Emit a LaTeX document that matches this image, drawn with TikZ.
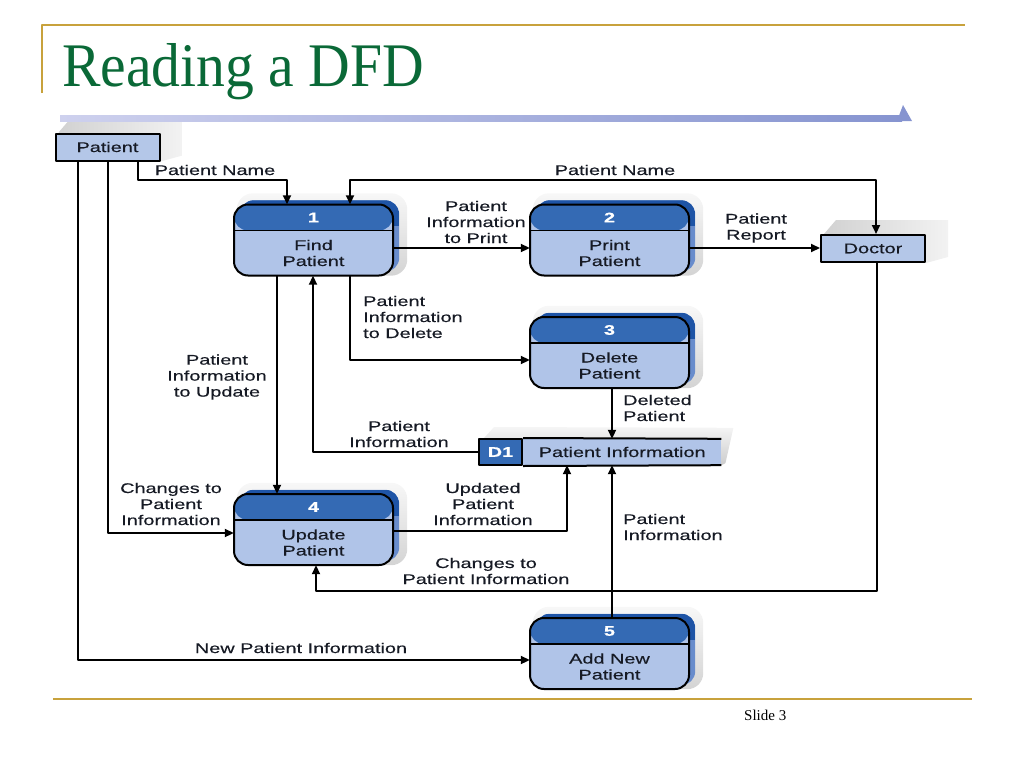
\documentclass[tikz,border=0pt]{standalone}
\usepackage{fontspec}
\setmainfont{Liberation Serif}
\newfontfamily\dfd[FakeStretch=1.42,FakeBold=0.35]{Liberation Sans}
\newfontfamily\titlef[FakeStretch=0.93]{Liberation Serif}
\usetikzlibrary{arrows.meta,backgrounds}
\definecolor{headc}{RGB}{52,106,180}
\definecolor{bodyc}{RGB}{176,196,232}
\definecolor{extbody}{RGB}{104,140,204}
\definecolor{exthead}{RGB}{30,84,166}
\definecolor{entfill}{RGB}{180,199,232}
\definecolor{gold}{RGB}{200,162,60}
\definecolor{titlegreen}{RGB}{10,105,55}
\definecolor{barL}{RGB}{206,209,238}
\definecolor{barR}{RGB}{134,148,208}
\definecolor{inkc}{RGB}{22,26,36}
\newcommand\dfdfont{\dfd\fontsize{14}{16}\selectfont}
\newcommand\procshade[1]{%
  \shade[top color=black!3, bottom color=black!17, rounded corners=16pt] ([shift={(3pt,11pt)}]#1.north west) rectangle ([shift={(14pt,0pt)}]#1.south east);
  \fill[extbody, rounded corners=14pt] ([shift={(6pt,4pt)}]#1.north west) rectangle ([shift={(6pt,4pt)}]#1.south east);
  \begin{scope}
    \clip[rounded corners=14pt] ([shift={(6pt,4pt)}]#1.north west) rectangle ([shift={(6pt,4pt)}]#1.south east);
    \fill[exthead] ([shift={(6pt,4pt)}]#1.north west) rectangle ([shift={(6pt,-22pt)}]#1.north east);
  \end{scope}}
\newcommand\entshade[1]{%
  \shade[left color=black!18, right color=black!5] ([shift={(4pt,0pt)}]#1.north west) -- ([shift={(16pt,14pt)}]#1.north west) -- ([shift={(22pt,14pt)}]#1.north east) -- ([shift={(22pt,6pt)}]#1.south east) -- (#1.south east) -- cycle;}
\begin{document}
\begin{tikzpicture}[x=1pt,y=-1pt,line join=round,
  >={Triangle[length=9pt,width=8pt]},
  flow/.style={line width=1.9pt,->},
  lbl/.style={font=\dfdfont, text=inkc, align=center, inner sep=0pt},
  ent/.style={draw, line width=2pt, fill=entfill, minimum width=104pt, minimum height=27pt, inner sep=0pt, font=\dfdfont, text=inkc},
  proc/.style n args={2}{fill=bodyc, rounded corners=14pt, minimum width=159pt, minimum height=71pt, inner sep=0pt,
    path picture={\fill[headc] (path picture bounding box.north west) rectangle ([yshift=-26pt]path picture bounding box.north east);
      \draw[line width=1.8pt] ([yshift=-26pt]path picture bounding box.north west) -- ([yshift=-26pt]path picture bounding box.north east);},
    postaction={draw, line width=2pt},
    label={[lbl, text=white, font=\dfdfont\bfseries, yshift=22.5pt]center:#1},
    label={[lbl, yshift=-13pt]center:#2}}]
\useasboundingbox (0,0) rectangle (1024,768);

% slide decoration
\draw[gold, line width=2pt] (42,93) -- (42,25) -- (965,25);
\node[anchor=base west, inner sep=0pt, text=titlegreen, font=\titlef\fontsize{62}{70}\selectfont] (title) at (62,86) {Reading a DFD};
\shade[left color=barL, right color=barR] (60,115) rectangle (902,121);
\fill[barR] (897,121) -- (903,105) -- (912,121) -- cycle;
\draw[gold, line width=2pt] (53,699) -- (972,699);
\node[anchor=base west, inner sep=0pt, font=\fontsize{15}{18}\selectfont] (slide) at (744,720) {Slide 3};

% entities
\node[ent] (patient) at (107.5,147) {Patient};
\node[ent] (doctor) at (873,248.5) {Doctor};

% processes
\node[proc={1}{Find\\Patient}] (find) at (313.5,240) {};
\node[proc={2}{Print\\Patient}] (print) at (609.5,240) {};
\node[proc={3}{Delete\\Patient}] (delete) at (609.5,352.5) {};
\node[proc={4}{Update\\Patient}] (update) at (313.5,529.5) {};
\node[proc={5}{Add New\\Patient}] (add) at (609.5,653.5) {};

% data store
\node[draw, line width=2pt, fill=headc, minimum width=43pt, minimum height=26pt, inner sep=0pt, text=white, font=\dfdfont\bfseries] (d1id) at (500.5,452) {D1};
\node[fill=bodyc, anchor=west, minimum width=198pt, minimum height=26pt, inner sep=0pt, font=\dfdfont, text=inkc] (d1) at (d1id.east) {Patient Information};
\draw[line width=2pt] (d1id.north east) -- (d1.north east) (d1id.south east) -- (d1.south east);

% shadows
\begin{pgfonlayer}{background}
  \procshade{find}\procshade{print}\procshade{delete}\procshade{update}\procshade{add}
  \entshade{patient}\entshade{doctor}
  \shade[top color=black!4, bottom color=black!20] ([shift={(6pt,0pt)}]d1id.north west) -- ([shift={(16pt,11pt)}]d1id.north west) -- ([shift={(12pt,11pt)}]d1.north east) -- ([shift={(4pt,2pt)}]d1.south east) -- (d1.south east) -- cycle;
\end{pgfonlayer}

% routing points
\coordinate (c1a) at (138,180); \coordinate (c1b) at (287,180);
\coordinate (t1) at (350,180); \coordinate (t2) at (876,180);
\coordinate (h1) at (0,248);
\coordinate (dc) at (350,360);
\coordinate (u) at (277,0);
\coordinate (pc) at (313,452);
\coordinate (q) at (612,0);
\coordinate (r) at (567,531);
\coordinate (s1) at (877,591); \coordinate (s2) at (316,591);
\coordinate (a1) at (108,533);
\coordinate (a2) at (78,660);

% flows
\draw[flow] (patient.south -| c1a) -- (c1a) -- (c1b) -- (find.north -| c1b);
\draw[flow,<->] (find.north -| t1) -- (t1) -- (t2) -- (doctor.north -| t2);
\draw[flow] (find.east |- h1) -- (print.west |- h1);
\draw[flow] (print.east |- h1) -- (doctor.west |- h1);
\draw[flow] (find.south -| dc) -- (dc) -- (delete.west |- dc);
\draw[flow] (find.south -| u) -- (update.north -| u);
\draw[flow] (d1id.west) -- (pc) -- (find.south -| pc);
\draw[flow] (delete.south -| q) -- (d1.north -| q);
\draw[flow] (update.east |- r) -- (r) -- (d1.south -| r);
\draw[flow] (add.north -| q) -- (d1.south -| q);
\draw[flow] (doctor.south -| s1) -- (s1) -- (s2) -- (update.south -| s2);
\draw[flow] (patient.south -| a1) -- (a1) -- (update.west |- a1);
\draw[flow] (patient.south -| a2) -- (a2) -- (add.west |- a2);

% flow labels
\node[lbl] (l1) at (215,170) {Patient Name};
\node[lbl] (l2) at (615,170) {Patient Name};
\node[lbl] (l3) at (476,222) {Patient\\Information\\to Print};
\node[lbl] (l4) at (756,228) {Patient\\Report};
\node[lbl, anchor=west, align=left] (l5) at (363,317) {Patient\\Information\\to Delete};
\node[lbl] (l6) at (217,377) {Patient\\Information\\to Update};
\node[lbl] (l7) at (399,434) {Patient\\Information};
\node[lbl, anchor=west, align=left] (l8) at (623,408) {Deleted\\Patient};
\node[lbl] (l9) at (171,504) {Changes to\\Patient\\Information};
\node[lbl] (l10) at (483,504) {Updated\\Patient\\Information};
\node[lbl, anchor=west, align=left] (l11) at (623,527) {Patient\\Information};
\node[lbl] (l12) at (486,571) {Changes to\\Patient Information};
\node[lbl] (l13) at (301,648) {New Patient Information};
\end{tikzpicture}
\end{document}
